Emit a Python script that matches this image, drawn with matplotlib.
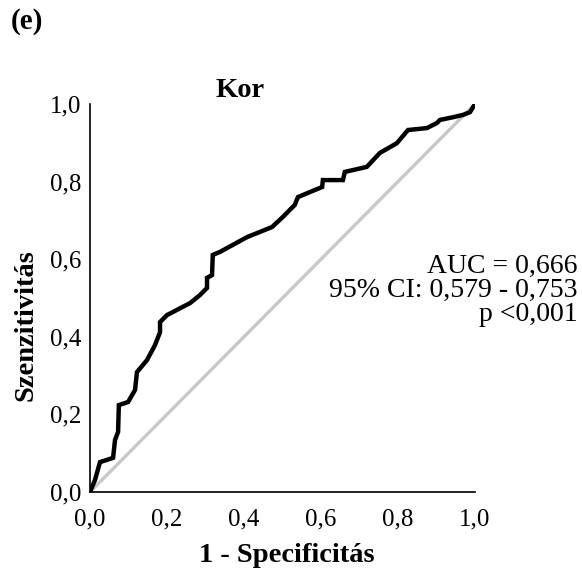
import matplotlib
matplotlib.use("Agg")
import matplotlib.pyplot as plt
from matplotlib.ticker import FuncFormatter

# ROC curve points (1 - specificity, sensitivity)
fpr = [0.0, 0.013, 0.026, 0.060, 0.065, 0.073, 0.075, 0.099, 0.117, 0.122,
       0.148, 0.169, 0.182, 0.182, 0.200, 0.260, 0.286, 0.304, 0.304, 0.317,
       0.319, 0.338, 0.408, 0.473, 0.501, 0.532, 0.540, 0.571, 0.603, 0.605,
       0.657, 0.662, 0.719, 0.753, 0.797, 0.826, 0.875, 0.901, 0.909, 0.943,
       0.969, 0.987, 1.0]
tpr = [0.0, 0.031, 0.077, 0.088, 0.134, 0.155, 0.224, 0.232, 0.263, 0.309,
       0.340, 0.379, 0.412, 0.438, 0.456, 0.487, 0.508, 0.526, 0.552, 0.559,
       0.611, 0.619, 0.657, 0.683, 0.709, 0.740, 0.760, 0.773, 0.786, 0.804,
       0.804, 0.825, 0.838, 0.874, 0.899, 0.933, 0.938, 0.951, 0.959, 0.966,
       0.972, 0.979, 1.0]
ticks = [0.0, 0.2, 0.4, 0.6, 0.8, 1.0]
stats = ["AUC = 0,666", "95% CI: 0,579 - 0,753", "p <0,001"]

plt.rcParams.update({"font.family": ["Liberation Serif", "DejaVu Serif"]})

fig = plt.figure(figsize=(5.82, 5.76), dpi=100)
fig.patch.set_facecolor("white")
ax = fig.add_axes([0.1546, 0.1458, 0.6615, 0.6736])

ax.plot([0, 1], [0, 1], color="#c8c8c8", lw=2.4, solid_capstyle="butt", zorder=2)
ax.plot(fpr, tpr, color="black", lw=3.2, solid_joinstyle="miter", zorder=3)

ax.set_xlim(0, 1)
ax.set_ylim(0, 1)
ax.set_xticks(ticks)
ax.set_yticks(ticks)
fmt = FuncFormatter(lambda v, _: f"{v:.1f}".replace(".", ","))
ax.xaxis.set_major_formatter(fmt)
ax.yaxis.set_major_formatter(fmt)
ax.tick_params(length=0, labelsize=18)
ax.tick_params(axis="x", pad=12)
ax.tick_params(axis="y", pad=6)
for s in ("top", "right"):
    ax.spines[s].set_visible(False)
for s in ("left", "bottom"):
    ax.spines[s].set_linewidth(1.2)

# title and axis labels placed in figure coords to match the original layout
fig.text(0.412, 0.832, "Kor", ha="center", va="baseline", fontsize=20.5, fontweight="bold")
fig.text(0.493, 0.036, "1 - Specificitás", ha="center", va="center",
         fontsize=20.5, fontweight="bold")
fig.text(0.045, 0.436, "Szenzitivitás", ha="center", va="center", rotation=90,
         fontsize=20.5, fontweight="bold")

fig.text(0.993, 0.495, "\n".join(stats), ha="right", va="center",
         fontsize=20, linespacing=0.95)
fig.text(0.018, 0.962, "(e)", ha="left", va="center", fontsize=21, fontweight="bold")

fig.savefig("out.png", dpi=100, facecolor="white")
